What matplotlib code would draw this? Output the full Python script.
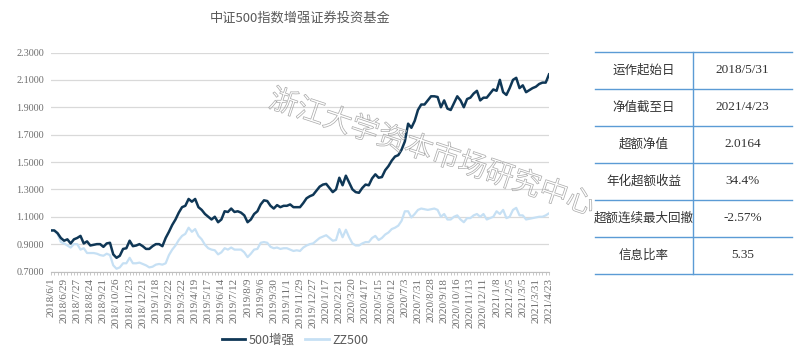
import matplotlib
matplotlib.use("Agg")
import matplotlib.pyplot as plt
import matplotlib.patheffects as pe
from matplotlib.lines import Line2D

plt.rcParams['font.family'] = ['Noto Sans CJK SC', 'DejaVu Sans']

title = "中证500指数增强证券投资基金"
series_names = ["500增强", "ZZ500"]

tick_labels = ["2018/6/1", "2018/6/29", "2018/7/27", "2018/8/24", "2018/9/21", "2018/10/26",
               "2018/11/23", "2018/12/21", "2019/1/18", "2019/2/22", "2019/3/22", "2019/4/19",
               "2019/5/17", "2019/6/14", "2019/7/12", "2019/8/9", "2019/9/6", "2019/9/30",
               "2019/11/1", "2019/11/29", "2019/12/27", "2020/1/17", "2020/2/21", "2020/3/20",
               "2020/4/17", "2020/5/15", "2020/6/12", "2020/7/3", "2020/7/31", "2020/8/28",
               "2020/9/18", "2020/10/16", "2020/11/13", "2020/12/11", "2021/1/8", "2021/2/5",
               "2021/3/5", "2021/3/31", "2021/4/23"]

enhanced = [1.00, 1.00, 0.98, 0.945, 0.925, 0.935, 0.905, 0.935, 0.945, 0.96,
            0.905, 0.92, 0.89, 0.895, 0.90, 0.90, 0.88, 0.905, 0.91, 0.825,
            0.80, 0.815, 0.865, 0.87, 0.925, 0.885, 0.89, 0.90, 0.885, 0.865,
            0.865, 0.885, 0.90, 0.90, 0.885, 0.945, 0.99, 1.04, 1.08, 1.13,
            1.17, 1.18, 1.23, 1.21, 1.23, 1.17, 1.15, 1.12, 1.10, 1.08,
            1.10, 1.06, 1.08, 1.14, 1.135, 1.16, 1.135, 1.14, 1.13, 1.11,
            1.06, 1.08, 1.12, 1.14, 1.19, 1.22, 1.215, 1.18, 1.16, 1.185,
            1.17, 1.18, 1.18, 1.19, 1.17, 1.17, 1.17, 1.20, 1.235, 1.25,
            1.26, 1.29, 1.32, 1.335, 1.34, 1.31, 1.28, 1.30, 1.385, 1.33,
            1.40, 1.35, 1.30, 1.28, 1.275, 1.31, 1.335, 1.33, 1.38, 1.41,
            1.385, 1.39, 1.44, 1.47, 1.51, 1.54, 1.55, 1.59, 1.65, 1.78,
            1.75, 1.80, 1.88, 1.92, 1.92, 1.95, 1.98, 1.98, 1.975, 1.90,
            1.95, 1.89, 1.88, 1.93, 1.98, 1.95, 1.90, 1.96, 1.97, 2.00,
            2.02, 1.95, 1.97, 1.97, 2.00, 2.03, 2.02, 2.10, 2.01, 1.99,
            2.04, 2.10, 2.115, 2.04, 2.06, 2.01, 2.025, 2.04, 2.05, 2.07,
            2.08, 2.08, 2.14]

zz500 = [1.00, 1.00, 0.975, 0.915, 0.905, 0.89, 0.875, 0.90, 0.90, 0.86,
         0.87, 0.835, 0.835, 0.835, 0.83, 0.82, 0.815, 0.83, 0.82, 0.745,
         0.72, 0.73, 0.76, 0.76, 0.80, 0.76, 0.76, 0.765, 0.755, 0.745,
         0.73, 0.735, 0.75, 0.755, 0.75, 0.76, 0.82, 0.86, 0.89, 0.93,
         0.96, 0.975, 1.02, 0.99, 1.01, 0.96, 0.935, 0.895, 0.87, 0.86,
         0.855, 0.825, 0.84, 0.87, 0.86, 0.875, 0.86, 0.86, 0.86, 0.84,
         0.805, 0.83, 0.86, 0.865, 0.91, 0.915, 0.91, 0.88, 0.87, 0.875,
         0.865, 0.87, 0.87, 0.86, 0.85, 0.855, 0.85, 0.875, 0.89, 0.90,
         0.905, 0.925, 0.945, 0.955, 0.965, 0.945, 0.925, 0.93, 1.01, 0.95,
         1.005, 0.95, 0.905, 0.89, 0.89, 0.905, 0.915, 0.915, 0.945, 0.96,
         0.93, 0.945, 0.97, 0.985, 1.01, 1.02, 1.035, 1.07, 1.14, 1.14,
         1.095, 1.12, 1.15, 1.16, 1.155, 1.15, 1.155, 1.16, 1.15, 1.10,
         1.12, 1.08, 1.08, 1.10, 1.11, 1.08, 1.06, 1.09, 1.09, 1.11,
         1.12, 1.10, 1.12, 1.08, 1.09, 1.10, 1.14, 1.12, 1.15, 1.09,
         1.10, 1.15, 1.165, 1.11, 1.11, 1.08, 1.085, 1.09, 1.095, 1.10,
         1.10, 1.11, 1.125]

table_keys = ["运作起始日", "净值截至日", "超额净值", "年化超额收益", "超额连续最大回撤", "信息比率"]
table_vals = ["2018/5/31", "2021/4/23", "2.0164", "34.4%", "-2.57%", "5.35"]

W, H = 799, 353
fig = plt.figure(figsize=(W / 100, H / 100), dpi=100)
ax = fig.add_axes([51 / W, 1 - 271.5 / H, (549 - 51) / W, (271.5 - 52.5) / H])

x = list(range(len(enhanced)))
grid_c = '#D9D9D9'
txt_c = '#595959'

ax.plot(x, zz500, color='#C6E0F4', lw=1.6, label=series_names[1], zorder=3)
ax.plot(x, enhanced, color='#0F3756', lw=1.8, label=series_names[0], zorder=4)

ax.set_xlim(0, len(enhanced) - 1)
ax.set_ylim(0.7, 2.3)
yt = [0.7 + 0.2 * k for k in range(9)]
ax.set_yticks(yt)
ax.set_yticklabels([f"{v:.4f}" for v in yt], fontsize=7.3, color='#6E6E6E', family='Liberation Serif')
ax.yaxis.grid(True, color=grid_c, lw=0.9)
ax.set_axisbelow(True)
ax.tick_params(axis='y', length=0, pad=5)

ax.set_xticks(list(range(0, len(enhanced), 4)))
ax.set_xticklabels(tick_labels, rotation=90, fontsize=8.0, color='#6E6E6E', family='Liberation Serif')
ax.set_xticks(x, minor=True)
ax.tick_params(axis='x', which='both', length=2.5, color='#BFBFBF', width=0.6, pad=2)

for s in ['top', 'right', 'left']:
    ax.spines[s].set_visible(False)
ax.spines['bottom'].set_color('#BFBFBF')
ax.spines['bottom'].set_linewidth(0.8)

fig.text(300 / W, 1 - 18 / H, title, ha='center', va='center', fontsize=9.5, color=txt_c)

handles = [Line2D([0], [0], color='#0F3756', lw=2), Line2D([0], [0], color='#C6E0F4', lw=2)]
fig.legend(handles, series_names, loc='center', bbox_to_anchor=(295 / W, 1 - 340 / H), ncol=2,
           frameon=False, fontsize=9, handlelength=1.9, handletextpad=0.3, columnspacing=0.8,
           labelcolor=txt_c)

# watermark
fig.text(432 / W, 1 - 153 / H, "浙江大学资本市场研究中心", ha='center', va='center',
         rotation=-18.5, fontsize=20.5, color='none', zorder=10,
         path_effects=[pe.Stroke(linewidth=0.5, foreground='#A8A8A8')])

# table
blue = '#5B9BD5'
left, mid, right = 595 / W, 693 / W, 792 / W
rows_y = [51.7, 88.5, 125.5, 162.5, 199.5, 236.5, 273.5]
for yy in rows_y:
    fig.add_artist(Line2D([left, right], [1 - yy / H, 1 - yy / H], color=blue, lw=1.0))
fig.add_artist(Line2D([mid, mid], [1 - rows_y[0] / H, 1 - rows_y[-1] / H], color=blue, lw=1.0))
for k, (key, val) in enumerate(zip(table_keys, table_vals)):
    yc = 1 - (rows_y[k] + rows_y[k + 1]) / 2 / H
    fig.text((left + mid) / 2, yc, key, ha='center', va='center', fontsize=9, color='#333333')
    fig.text((mid + right) / 2, yc, val, ha='center', va='center', fontsize=9.5, color='#333333',
             family='Liberation Serif')

fig.savefig('out.png', dpi=100)
